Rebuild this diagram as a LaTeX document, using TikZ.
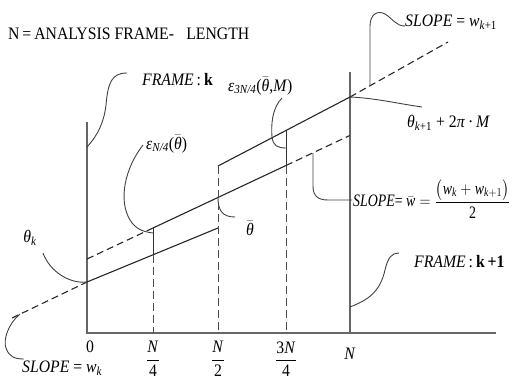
\documentclass[tikz,border=0pt]{standalone}
\usepackage{amsmath}
\usepackage{fontspec}
\setmainfont[FakeStretch=0.9]{Liberation Serif}
\newcommand\tv[1]{\text{\textit{#1}}}
\newcommand\thb{$\bar{\text{\textit{θ}}}$}
\begin{document}
\begin{tikzpicture}[x=1pt,y=-1pt,
  ln/.style={line width=1.1pt, draw=black!85},
  vs/.style={line width=0.9pt, draw=black!80},
  dsh/.style={ln, dash pattern=on 7pt off 4pt},
  vd/.style={line width=0.9pt, draw=black!70, dash pattern=on 8pt off 4pt},
  ax/.style={line width=1.4pt, draw=black!60},
  ldr/.style={line width=0.9pt, draw=black!75},
  lbl/.style={inner sep=0pt, font=\fontsize{17.5}{20}\selectfont}]
\useasboundingbox (0,0) rectangle (513,388);
% key points
\coordinate (O) at (87,333);
\coordinate (Xe) at (496,333);
\coordinate (LT) at (87,122);
\coordinate (RT) at (350,72);
\coordinate (RB) at (350,333);
\coordinate (A) at (87,282);
\coordinate (B) at (218,228);
\coordinate (Bq) at (153,254.8);
\coordinate (M0) at (87,259);
\coordinate (M1) at (153,228);
\coordinate (M3) at (286,165.5);
\coordinate (M4) at (350,135.4);
\coordinate (U0) at (218,166);
\coordinate (U3) at (286,130.4);
\coordinate (U4) at (350,97);
\coordinate (Wk) at (12,318);
\coordinate (Wk1) at (448,42);
\coordinate (T1) at (153,333);
\coordinate (T2) at (218,333);
\coordinate (T3) at (286,333);
% axes
\draw[ax] (LT) -- (O) -- (Xe);
\draw[ax] (RT) -- (RB);
% phase lines
\draw[ln] (A) -- (B);
\draw[dsh] (M0) -- (M1);
\draw[ln] (M1) -- (M3);
\draw[dsh] (M3) -- (M4);
\draw[ln] (U0) -- (U4);
\draw[dsh] (Wk) -- (A);
\draw[dsh] (U4) -- (Wk1);
% verticals
\draw[vs] (M1) -- (Bq);
\draw[vd] (Bq) -- (T1);
\draw[vd] (U0) -- (T2);
\draw[vs] (U3) -- (M3);
\draw[vd] (M3) -- (T3);
% labels
\node[lbl, anchor=west] (title) at (8,34) {N\,=\,ANALYSIS FRAME-\hspace{0.7em}LENGTH};
\node[lbl, anchor=west] (fk) at (142,80) {\textit{FRAME}\,:\,\textbf{k}};
\node[lbl, anchor=west] (e3) at (228,86) {\textit{ε}\textsubscript{\textit{3N/4}}(\thb,\textit{M})};
\node[lbl, anchor=west] (e1) at (146,144) {\textit{ε}\textsubscript{\textit{N/4}}(\thb)};
\node[lbl] (thk) at (30,238) {\textit{θ}\textsubscript{\textit{k}}};
\node[lbl] (thb) at (250,228) {\thb};
\node[lbl, anchor=west] (swk) at (22,368) {\textit{SLOPE} = \textit{w}\textsubscript{\textit{k}}};
\node[lbl, anchor=west] (swk1) at (405,22) {\textit{SLOPE} = \textit{w}\textsubscript{\textit{k}+1}};
\node[lbl, anchor=west] (thk1) at (407,123) {\textit{θ}\textsubscript{\textit{k}+1} + 2\textit{π}\,·\,\textit{M}};
\node[lbl, anchor=west] (swb) at (353,199) {\resizebox{157pt}{\height}{\textit{SLOPE}= $\bar{\tv{w}} = \dfrac{\bigl(\tv{w}_{\tv{k}}+\tv{w}_{\tv{k}+1}\bigr)}{\text{2}}$}};
\node[lbl, anchor=west] (fk1) at (414,262) {\textit{FRAME}\,:\,\textbf{k\,+1}};
% axis labels
\node[lbl] (l0) at (90,347) {0};
\node[lbl] (l1) at (153,359) {$\dfrac{\tv{N}}{\text{4}}$};
\node[lbl] (l2) at (218,359) {$\dfrac{\tv{N}}{\text{2}}$};
\node[lbl] (l3) at (286,359) {$\dfrac{\text{3}\tv{N}}{\text{4}}$};
\node[lbl] (lN) at (350,354) {\textit{N}};
% leader coordinates
\coordinate (Lk) at (43,253);
\coordinate (Sk) at (20,314);
\coordinate (Ske) at (24,359);
\coordinate (F1) at (87,147);
\coordinate (Fk) at (127,73);
\coordinate (E1) at (143,145);
\coordinate (E1e) at (153,233);
\coordinate (Mb) at (218,197.5);
\coordinate (Tb) at (235,217);
\coordinate (E3) at (282,98);
\coordinate (E3e) at (286,148);
\coordinate (Te) at (422,107);
\coordinate (S1) at (370,86);
\coordinate (S1t) at (370,26);
\coordinate (S1e) at (405,26);
\coordinate (Sb) at (313,153);
\coordinate (Sbc) at (313,186);
\coordinate (Sbe) at (352,200);
\coordinate (F2) at (350,307);
\coordinate (F2e) at (399,253);
% leaders
\draw[ldr] (A) .. controls (70,284) and (50,272) .. (Lk);
\draw[ldr] (Sk) .. controls (8,324) and (3,340) .. (6,348) .. controls (9,357) and (15,359) .. (Ske);
\draw[ldr] (F1) .. controls (98,135) and (104,122) .. (106,105) .. controls (108,82) and (112,73) .. (Fk);
\draw[ldr] (E1) .. controls (125,168) and (118,200) .. (130,220) .. controls (136,230) and (145,232) .. (E1e);
\draw[ldr] (Mb) .. controls (218,210) and (222,217) .. (Tb);
\draw[ldr] (E3) .. controls (272,108) and (271,125) .. (272,137) .. controls (273,146) and (278,148) .. (E3e);
\draw[ldr] (U4) .. controls (375,98) and (400,104) .. (Te);
\draw[ldr] (S1) -- (S1t) .. controls (370,14) and (378,10) .. (385,14) .. controls (393,19) and (396,26) .. (S1e);
\draw[ldr] (Sb) -- (Sbc) .. controls (313,196) and (318,200) .. (328,200) -- (Sbe);
\draw[ldr] (F2) .. controls (368,300) and (380,292) .. (385,270) .. controls (388,257) and (392,253) .. (F2e);
\end{tikzpicture}
\end{document}
